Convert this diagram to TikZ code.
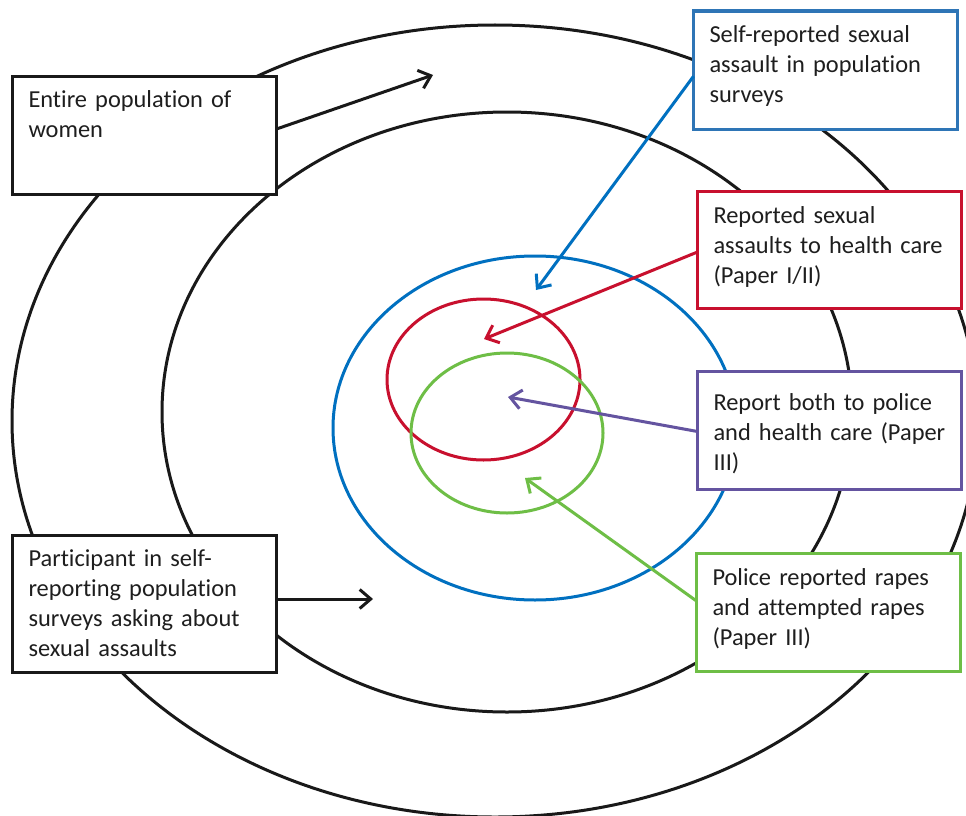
\documentclass[tikz,border=0pt]{standalone}
\usepackage{fontspec}
\setmainfont{Carlito}[Ligatures=NoCommon]
\usetikzlibrary{arrows.meta,calc}
\definecolor{cblue}{RGB}{0,112,192}
\definecolor{bblue}{RGB}{46,117,182}
\definecolor{cred}{RGB}{200,16,46}
\definecolor{cpurple}{RGB}{100,84,160}
\definecolor{cgreen}{RGB}{110,190,70}
\definecolor{ctext}{RGB}{30,30,30}
\begin{document}
\begin{tikzpicture}[x=1pt,y=-1pt,
  bx/.style={draw, line width=3.2pt, rectangle, anchor=north west, inner xsep=16pt, inner ysep=0pt, outer sep=0pt, align=left, text width=232pt, font=\fontsize{24.4}{30}\selectfont, text=ctext, fill=white},
  ring/.style={line width=3pt},
  arr/.style={line width=3pt, -{Straight Barb[length=11pt,width=19pt]}},
]
\fill[white] (0,0) rectangle (966,816);
\useasboundingbox (0,0) rectangle (966,816);
\clip (0,0) rectangle (966,816);

% rings
\draw[ring, black!90] (495,421) ellipse [x radius=483pt, y radius=396pt];
\draw[ring, black!90] (507,412) ellipse [x radius=345pt, y radius=300pt];
\draw[ring, cblue] (535,428) ellipse [x radius=202pt, y radius=172pt];
\draw[ring, cred] (483.5,379.5) ellipse [x radius=96.5pt, y radius=80.5pt];
\draw[ring, cgreen] (507,433) ellipse [x radius=96pt, y radius=80pt];

% boxes
\node[bx, draw=black!90, text height=30.5pt, text depth=87.5pt] (b1) at (12.5,76.5)
  {Entire population of\\women};
\node[bx, draw=bblue, text height=32pt, text depth=86.5pt] (b2) at (693.5,11)
  {Self-reported sexual\\assault in population\\surveys};
\node[bx, draw=cred, text height=31.5pt, text depth=85.5pt] (b3) at (697.5,191.5)
  {Reported sexual\\assaults to health care\\(Paper I/II)};
\node[bx, draw=cpurple, text height=38.5pt, text depth=79.5pt] (b4) at (697.5,371.5)
  {Report both to police\\and health care (Paper\\III)};
\node[bx, draw=cgreen, text height=31.5pt, text depth=86.5pt] (b5) at (696.5,553.5)
  {Police reported rapes\\and attempted rapes\\(Paper III)};
\node[bx, draw=black!90, text height=30.5pt, text depth=106.5pt] (b6) at (12.5,535.5)
  {Participant in self-\\reporting population\\surveys asking about\\sexual assaults};

% arrow ends
\coordinate (t1) at (433,75);
\coordinate (t6) at (373,599);
\coordinate (t2) at (536,290);
\coordinate (t3) at (484,339);
\coordinate (t4) at (508,397);
\coordinate (t5) at (525,478);

% arrows
\draw[arr, black!90] ([yshift=6.5pt]b1.east) -- (t1);
\draw[arr, black!90] ([yshift=5pt]b6.east) -- (t6);
\draw[arr, cblue] ([yshift=-6pt]b2.west) -- (t2);
\draw[arr, cred] ([yshift=-2pt]b3.west) -- (t3);
\draw[arr, cpurple] ([yshift=-1pt]b4.west) -- (t4);
\draw[arr, cgreen] ([yshift=11.5pt]b5.west) -- (t5);
\end{tikzpicture}
\end{document}
